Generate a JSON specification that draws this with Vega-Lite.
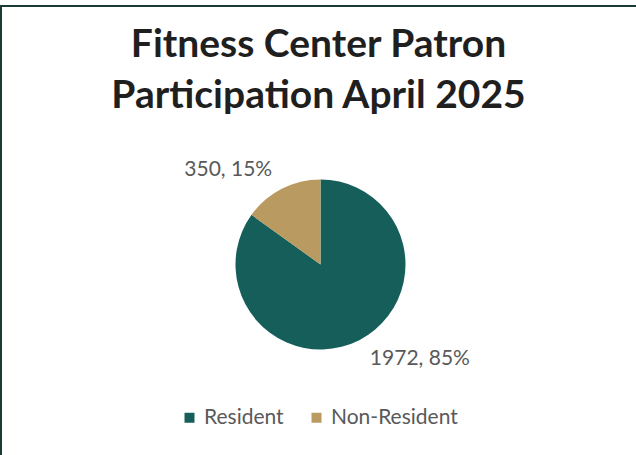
{
  "$schema": "https://vega.github.io/schema/vega-lite/v6.json",
  "width": 635,
  "height": 449,
  "padding": {"left": 1, "top": 6, "right": 0, "bottom": 0},
  "autosize": "none",
  "background": "white",
  "view": {"stroke": "#1B3B36", "strokeWidth": 2, "strokeDash": [635, 1084, 450]},
  "config": {
    "font": "Lato"
  },
  "title": {
    "text": ["Fitness Center Patron", "Participation April 2025"],
    "font": "Lato",
    "fontSize": 39,
    "fontWeight": "bold",
    "color": "#1F1F1F",
    "anchor": "middle",
    "frame": "group",
    "lineHeight": 51,
    "offset": -110
  },
  "data": {
    "values": [
      {"category": "Resident", "count": 1972, "label": "1972, 85%"},
      {"category": "Non-Resident", "count": 350, "label": "350, 15%"}
    ]
  },
  "encoding": {
    "theta": {"field": "count", "type": "quantitative", "stack": true},
    "order": {"field": "count", "type": "quantitative", "sort": "descending"},
    "color": {
      "field": "category",
      "type": "nominal",
      "sort": ["Resident", "Non-Resident"],
      "scale": {"domain": ["Resident", "Non-Resident"], "range": ["#165E5A", "#B99B62"]},
      "legend": {
        "title": null,
        "orient": "none",
        "legendX": 178,
        "legendY": 401,
        "direction": "horizontal",
        "symbolType": "square",
        "symbolSize": 100,
        "symbolStrokeWidth": 0,
        "labelFont": "Lato",
        "labelFontSize": 21,
        "labelColor": "#595959",
        "labelOffset": 4,
        "columnPadding": 22
      }
    }
  },
  "layer": [
    {
      "mark": {"type": "arc", "outerRadius": 85, "xOffset": 2, "yOffset": 34}
    },
    {
      "mark": {"type": "text", "radius": 106, "align": "right", "baseline": "middle", "dx": 2, "dy": 34, "fontSize": 21, "font": "Lato", "color": "#595959"},
      "encoding": {
        "text": {"condition": {"test": "datum.category === 'Non-Resident'", "field": "label"}, "value": ""},
        "color": {"value": "#595959"}
      }
    },
    {
      "mark": {"type": "text", "radius": 106, "align": "left", "baseline": "middle", "dx": 3, "dy": 34, "fontSize": 21, "font": "Lato", "color": "#595959"},
      "encoding": {
        "text": {"condition": {"test": "datum.category === 'Resident'", "field": "label"}, "value": ""},
        "color": {"value": "#595959"}
      }
    }
  ]
}
